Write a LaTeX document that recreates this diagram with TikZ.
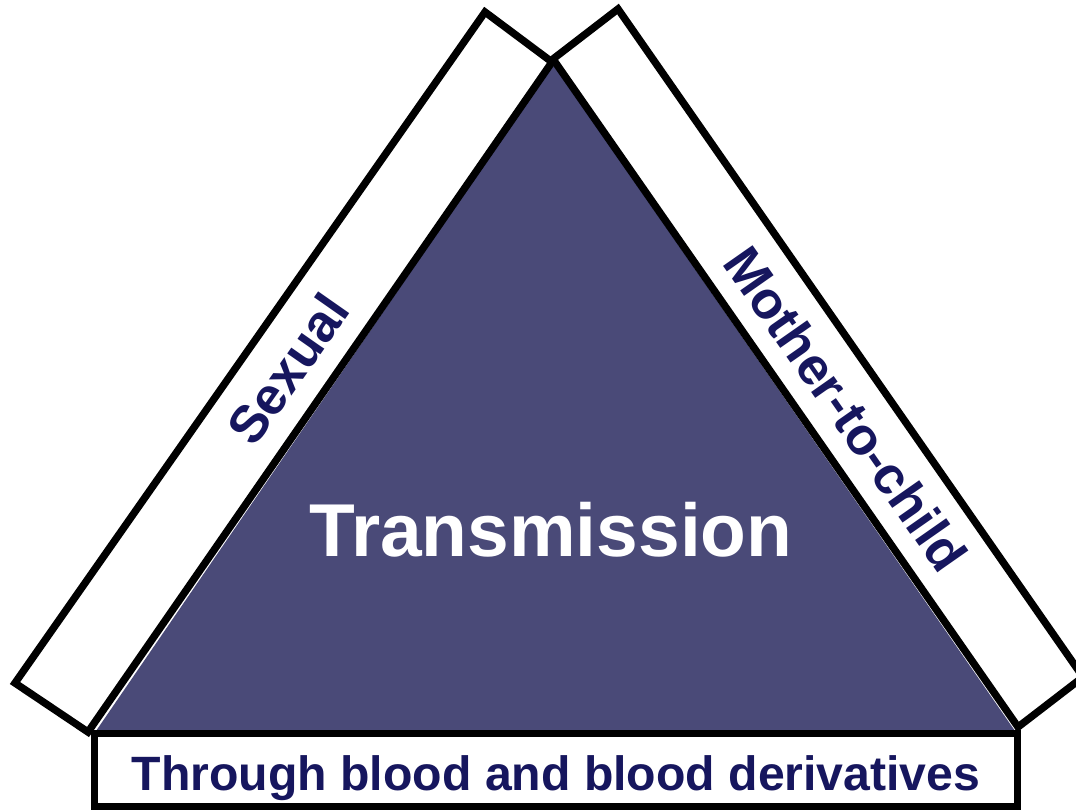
\documentclass[tikz,border=0pt]{standalone}
\usepackage{fontspec}
\setmainfont{Liberation Sans}
\usetikzlibrary{positioning}
\definecolor{slateblue}{RGB}{74,74,120}
\definecolor{inknavy}{RGB}{22,22,94}

\begin{document}
\begin{tikzpicture}[x=0.01cm, y=-0.01cm,
  band/.style={draw=black, line width=2.1pt, fill=white},
  tri/.style={fill=slateblue},
  side/.style={text=inknavy, inner sep=0pt, font=\bfseries\fontsize{14.9}{17}\selectfont},
  base/.style={rectangle, draw=black, line width=2.1pt, fill=white, inner sep=0pt,
               minimum width=9.22cm, minimum height=0.73cm, text height=0.45cm, text depth=0.05cm,
               text=inknavy, font=\bfseries\fontsize{13.7}{16}\selectfont},
  title/.style={text=white, inner sep=0pt, font=\bfseries\fontsize{21.3}{24}\selectfont}
]
\useasboundingbox (0,0) rectangle (1076,811);
\clip (0,0) rectangle (1076,811);

\coordinate (apex) at (553,64);
\coordinate (bl) at (96,731);
\coordinate (br) at (1015,731);

\coordinate (sx1) at (485,12);
\coordinate (sx2) at (552,62);
\coordinate (sx3) at (88,732);
\coordinate (sx4) at (15,683);

\coordinate (mc1) at (618,9);
\coordinate (mc2) at (553,59);
\coordinate (mc3) at (1018,727);
\coordinate (mc4) at (1083,677);

\fill[tri](apex)--(bl)--(br)--cycle;
\draw[band](sx1)--(sx2)--(sx3)--(sx4)--cycle;
\draw[band](mc1)--(mc2)--(mc3)--(mc4)--cycle;

\node[base](blood) at (556,770){Through blood and blood derivatives};
\node[title](trans) at (551,530){Transmission};
\node[side,rotate=55](sexual) at (288,369){Sexual};
\node[side,rotate=-55](mother) at (846,409){Mother-to-child};
\end{tikzpicture}
\end{document}
